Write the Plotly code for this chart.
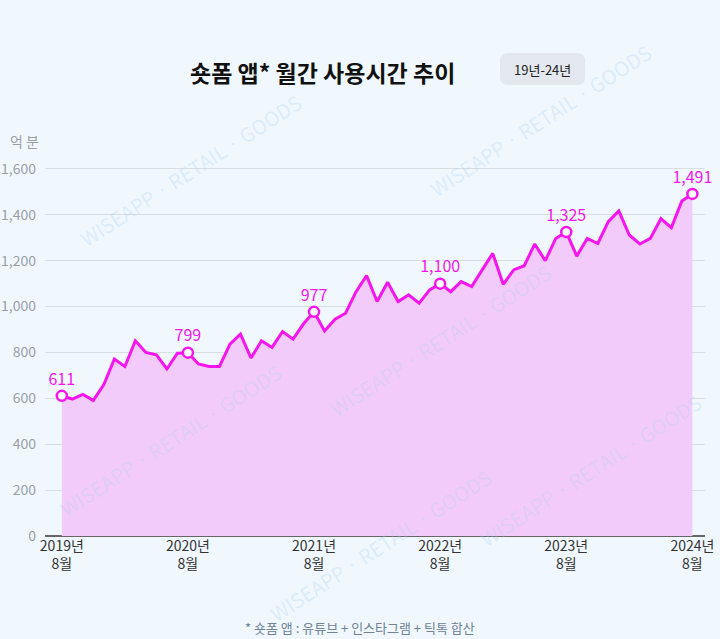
import plotly.graph_objects as go

months = list(range(61))
values = [611, 597, 617, 591, 660, 771, 739, 851, 800, 790, 728, 797,
          799, 750, 739, 739, 836, 880, 776, 851, 822, 891, 858, 925,
          977, 894, 945, 971, 1065, 1135, 1022, 1106, 1022, 1051, 1015, 1073,
          1100, 1065, 1109, 1087, 1160, 1232, 1097, 1160, 1178, 1273, 1200, 1297,
          1325, 1220, 1297, 1275, 1370, 1417, 1312, 1273, 1297, 1383, 1344, 1460,
          1491]
tick_idx = [0, 12, 24, 36, 48, 60]
tick_text = ["2019년<br>8월", "2020년<br>8월", "2021년<br>8월", "2022년<br>8월", "2023년<br>8월", "2024년<br>8월"]
y_ticks = [0, 200, 400, 600, 800, 1000, 1200, 1400, 1600]
y_text = ["0", "200", "400", "600", "800", "1,000", "1,200", "1,400", "1,600"]

FONT = "Noto Sans CJK KR"
MAG = "#f516ee"
L, R, T, B = 45, 15, 146, 103
W, H = 720, 639
PW, PH = W - L - R, H - T - B


def px(x):
    return (x - L) / PW


def py(y):
    return (H - B - y) / PH


fig = go.Figure()
fig.add_trace(go.Scatter(
    x=months, y=values, mode="lines", fill="tozeroy",
    fillcolor="#f3cbfb", line=dict(color=MAG, width=3), hoverinfo="skip"))

hx = tick_idx
hy = [values[i] for i in hx]
fig.add_trace(go.Scatter(
    x=hx, y=hy, mode="markers+text",
    marker=dict(size=10, color="white", line=dict(color=MAG, width=2.5)),
    text=[f"{v:,}" for v in hy], textposition="top center",
    textfont=dict(family=FONT, size=16, color=MAG), hoverinfo="skip", cliponaxis=False))

# watermark
wm = "WISEAPP · RETAIL · GOODS"
for (x, y) in [(190, 170), (540, 120), (440, 340), (170, 440), (590, 470), (380, 545)]:
    fig.add_annotation(x=px(x), y=py(y), xref="paper", yref="paper", text=wm, showarrow=False,
                       xanchor="center", yanchor="middle",
                       textangle=-33, font=dict(family=FONT, size=20, color="rgba(170,205,235,0.28)"))

fig.add_annotation(x=px(322), y=py(72), xref="paper", yref="paper", text="<b>숏폼 앱* 월간 사용시간 추이</b>",
                   showarrow=False, xanchor="center", yanchor="middle",
                   font=dict(family=FONT, size=23, color="#111"))
fig.add_annotation(x=px(8), y=py(141), xref="paper", yref="paper", xanchor="left", yanchor="middle",
                   text="억 분", showarrow=False, font=dict(family=FONT, size=14, color="#9a9fa6"))
fig.add_annotation(x=px(360), y=py(627), xref="paper", yref="paper", xanchor="center", yanchor="middle",
                   text="* 숏폼 앱 : 유튜브 + 인스타그램 + 틱톡 합산", showarrow=False,
                   font=dict(family=FONT, size=13, color="#6f8296"))

# badge with rounded corners
bx0, bx1, by0, by1, rr = 500, 585, 53, 85, 8
path = (f"M {px(bx0 + rr)},{py(by0)} L {px(bx1 - rr)},{py(by0)} "
        f"Q {px(bx1)},{py(by0)} {px(bx1)},{py(by0 + rr)} L {px(bx1)},{py(by1 - rr)} "
        f"Q {px(bx1)},{py(by1)} {px(bx1 - rr)},{py(by1)} L {px(bx0 + rr)},{py(by1)} "
        f"Q {px(bx0)},{py(by1)} {px(bx0)},{py(by1 - rr)} L {px(bx0)},{py(by0 + rr)} "
        f"Q {px(bx0)},{py(by0)} {px(bx0 + rr)},{py(by0)} Z")
fig.add_shape(type="path", xref="paper", yref="paper", path=path,
              fillcolor="#e3e8ee", line=dict(width=0), layer="below")
fig.add_annotation(x=px(542), y=py(69), xref="paper", yref="paper", xanchor="center", yanchor="middle",
                   text="19년-24년", showarrow=False, font=dict(family=FONT, size=13, color="#222"))

fig.update_layout(
    width=W, height=H,
    margin=dict(l=L, r=R, t=T, b=B),
    paper_bgcolor="#f0f8fe", plot_bgcolor="#f0f8fe",
    showlegend=False,
    xaxis=dict(range=[-1.6, 61.2], tickvals=tick_idx, ticktext=tick_text, showgrid=False,
               zeroline=False, showline=False, ticks="", automargin=False,
               tickfont=dict(family=FONT, size=14, color="#333")),
    yaxis=dict(range=[0, 1700], tickvals=y_ticks, ticktext=y_text, showgrid=True,
               gridcolor="#d9dee3", gridwidth=1, zeroline=True, zerolinecolor="#666",
               zerolinewidth=1.5, ticks="", ticklabelstandoff=8, automargin=False,
               tickfont=dict(family=FONT, size=14, color="#9a9fa6")),
)

fig.write_html("out.html")
